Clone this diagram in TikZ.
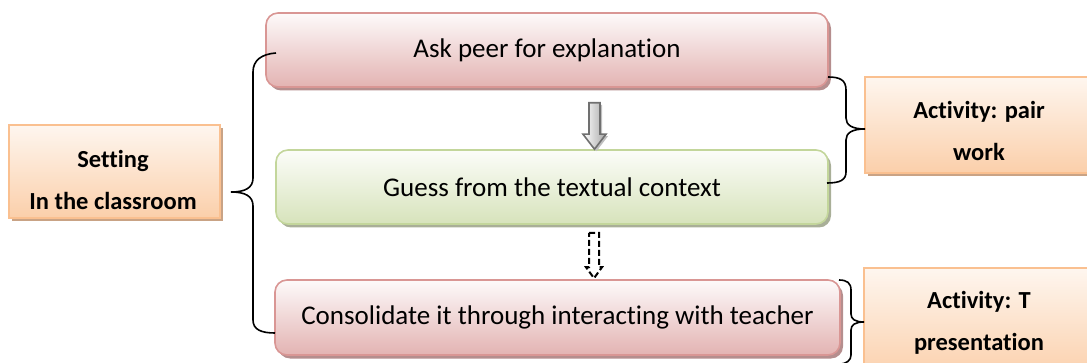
\documentclass[tikz,border=0pt]{standalone}
\usepackage{fontspec}
\setmainfont{Carlito}[Ligatures=NoCommon]
\usetikzlibrary{shadows,calc}

\definecolor{pinkline}{HTML}{D99694}
\definecolor{pinktop}{HTML}{FDFAFA}
\definecolor{pinkbot}{HTML}{E3B3B2}
\definecolor{pinkshadow}{HTML}{B58E8E}
\definecolor{greenline}{HTML}{C3D69B}
\definecolor{greentop}{HTML}{FCFDF9}
\definecolor{greenbot}{HTML}{D7E3BB}
\definecolor{greenshadow}{HTML}{A9AF98}
\definecolor{orangeline}{HTML}{FAC090}
\definecolor{orangetop}{HTML}{FEF6EF}
\definecolor{orangebot}{HTML}{FBCFAA}
\definecolor{orangeshadow}{HTML}{C9A385}
\definecolor{arrowline}{HTML}{707070}

\tikzset{
  stepbox/.style={rounded corners=12pt, line width=1.6pt, inner sep=0pt,
    font=\fontsize{27}{32}\selectfont},
  pinkbox/.style={stepbox, draw=pinkline, top color=pinktop, bottom color=pinkbot,
    drop shadow={shadow xshift=3pt, shadow yshift=-3.5pt, fill=pinkshadow, opacity=1}},
  greenbox/.style={stepbox, draw=greenline, top color=greentop, bottom color=greenbot,
    drop shadow={shadow xshift=3pt, shadow yshift=-3.5pt, fill=greenshadow, opacity=1}},
  notebox/.style={line width=1.4pt, inner sep=0pt, draw=orangeline,
    top color=orangetop, bottom color=orangebot,
    drop shadow={shadow xshift=3pt, shadow yshift=-3.5pt, fill=orangeshadow, opacity=1}},
  notetext/.style={align=center, inner sep=0pt,
    font=\fontsize{24.5}{42}\selectfont\bfseries},
  bracket/.style={draw=black, line width=1.6pt},
  blockarrow/.style={draw=arrowline, line width=1.6pt, left color=white, right color=black!35,
    drop shadow={shadow xshift=2pt, shadow yshift=-2pt, fill=black!25, opacity=1}},
  dasharrow/.style={draw=black, line width=2pt, dash pattern=on 6pt off 3pt},
}

\begin{document}
\begin{tikzpicture}[x=1pt, y=-1pt]
  \useasboundingbox (0,0) rectangle (1087,363);

  % the three steps
  \node[pinkbox, minimum width=562pt, minimum height=74pt] (ask) at (547,50) {Ask peer for explanation};
  \node[greenbox, minimum width=552pt, minimum height=74pt] (guess) at (552,187) {Guess from the textual context};
  \node[pinkbox, minimum width=565pt, minimum height=75pt] (cons) at (557.5,317.5) {Consolidate it through interacting with teacher};

  % side notes
  \node[notebox, minimum width=211pt, minimum height=93pt] (setting) at (114.5,171.5) {};
  \node[notetext] (settingtxt) at (113,180) {Setting\\In the classroom};
  \node[notebox, minimum width=228pt, minimum height=96pt] (pair) at (979,125) {};
  \node[notetext] (pairtxt) at (979,131) {Activity: pair\\work};
  \node[notebox, minimum width=229pt, minimum height=112pt] (tpres) at (978.5,324) {};
  \node[notetext] (tprestxt) at (979,322.5) {Activity: T\\presentation};

  % solid block arrow between the first two steps
  \coordinate (a1s) at (ask.south -| 594.5,0);
  \coordinate (a1e) at (guess.north -| 594.5,0);
  \draw[blockarrow] ($(a1s)+(-5.5,15)$) -- ($(a1s)+(5.5,15)$) -- ($(a1e)+(5.5,-15)$)
    -- ($(a1e)+(11.5,-15)$) -- (a1e) -- ($(a1e)+(-11.5,-15)$) -- ($(a1e)+(-5.5,-15)$) -- cycle;

  % dashed outline arrow between the last two steps
  \coordinate (a2s) at (guess.south -| 594,0);
  \coordinate (a2e) at (cons.north -| 594,0);
  \draw[dasharrow] ($(a2s)+(-5,8)$) -- ($(a2s)+(5,8)$) -- ($(a2e)+(5,-12)$)
    -- ($(a2e)+(8,-12)$) -- ($(a2e)+(0,-1)$) -- ($(a2e)+(-8,-12)$) -- ($(a2e)+(-5,-12)$) -- cycle;

  % brace from the setting to the three steps
  \coordinate (lbtop) at (276,53);
  \coordinate (lbtip) at (setting.east -| 231,0);
  \coordinate (lbbot) at (275,333);
  \draw[bracket] (lbtop) .. controls (262,54) and (253,60) .. (253,72) -- (253,178)
    .. controls (253,188) and (245,192) .. (lbtip |- 0,192)
    .. controls (245,192) and (253,196) .. (253,206) -- (253,320)
    .. controls (253,330) and (262,333) .. (lbbot);

  % brace from the pair-work note to the first two steps
  \coordinate (rb1top) at (828,77);
  \coordinate (rb1tip) at (865,129);
  \coordinate (rb1bot) at (827,183);
  \draw[bracket] (rb1top) .. controls (840,77) and (846,80) .. (846,90) -- (846,118)
    .. controls (846,125) and (852,129) .. (rb1tip)
    .. controls (852,129) and (846,133) .. (846,140) -- (846,172)
    .. controls (846,180) and (840,183) .. (rb1bot);

  % brace from the presentation note to the last step
  \coordinate (rb2top) at (839,280);
  \coordinate (rb2tip) at (864,322);
  \coordinate (rb2bot) at (839,364);
  \draw[bracket] (rb2top) .. controls (847,280) and (851,283) .. (851,290) -- (851,314)
    .. controls (851,319) and (855,322) .. (rb2tip)
    .. controls (855,322) and (851,325) .. (851,330) -- (851,355)
    .. controls (851,360) and (847,364) .. (rb2bot);
\end{tikzpicture}
\end{document}
